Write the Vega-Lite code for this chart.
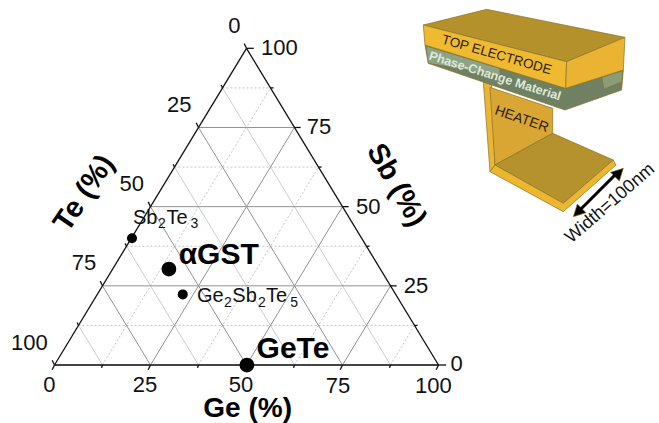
{
"$schema":"https://vega.github.io/schema/vega-lite/v6.json",
"width":659,"height":423,"autosize":"none","padding":0,"background":"white",
"config":{"view":{"stroke":null},"text":{"font":"Liberation Sans"}},
"datasets":{
"shapes":[
{"part":"strip","i":1,"x":111.67,"y":89.46},{"part":"strip","i":2,"x":113.84,"y":88.6},{"part":"strip","i":3,"x":114.71,"y":63.15},{"part":"strip","i":4,"x":113.41,"y":61.05},
{"part":"wall","i":1,"x":113.41,"y":87.67},{"part":"wall","i":2,"x":129.73,"y":81.04},{"part":"wall","i":3,"x":129.73,"y":73.15},{"part":"wall","i":4,"x":114.71,"y":63.15},
{"part":"floor","i":1,"x":114.71,"y":63.15},{"part":"floor","i":2,"x":129.73,"y":73.15},{"part":"floor","i":3,"x":145.53,"y":64.73},{"part":"floor","i":4,"x":132.5,"y":51.05},
{"part":"edge","i":1,"x":113.41,"y":61.05},{"part":"edge","i":2,"x":114.71,"y":63.15},{"part":"edge","i":3,"x":132.5,"y":51.05},{"part":"edge","i":4,"x":145.53,"y":64.73},{"part":"edge","i":5,"x":146.22,"y":63.15},{"part":"edge","i":6,"x":132.5,"y":48.41},
{"part":"pcm","i":1,"x":96.48,"y":101.04},{"part":"pcm","i":2,"x":133.11,"y":87.36},{"part":"pcm","i":3,"x":148.13,"y":93.15},{"part":"pcm","i":4,"x":147.69,"y":86.83},{"part":"pcm","i":5,"x":132.94,"y":80.52},{"part":"pcm","i":6,"x":97.35,"y":95.25},
{"part":"pcmLeft","i":1,"x":96.74,"y":100.73},{"part":"pcmLeft","i":2,"x":116.01,"y":93.67},{"part":"pcmLeft","i":3,"x":116.01,"y":91.25},{"part":"pcmLeft","i":4,"x":97.35,"y":95.25},
{"part":"pcmLight","i":1,"x":142.49,"y":90.83},{"part":"pcmLight","i":2,"x":147.96,"y":92.94},{"part":"pcmLight","i":3,"x":147.78,"y":89.46},{"part":"pcmLight","i":4,"x":143.1,"y":87.04},
{"part":"top","i":1,"x":96.05,"y":107.36},{"part":"top","i":2,"x":112.54,"y":112.3},{"part":"top","i":3,"x":148.56,"y":103.46},{"part":"top","i":4,"x":133.37,"y":95.78},
{"part":"front","i":1,"x":96.05,"y":107.36},{"part":"front","i":2,"x":133.37,"y":95.78},{"part":"front","i":3,"x":133.11,"y":87.36},{"part":"front","i":4,"x":96.48,"y":101.04},
{"part":"side","i":1,"x":133.37,"y":95.78},{"part":"side","i":2,"x":148.56,"y":103.46},{"part":"side","i":3,"x":148.13,"y":93.15},{"part":"side","i":4,"x":133.11,"y":87.36},
{"part":"head1","i":1,"x":135.11,"y":46.84},{"part":"head1","i":2,"x":136.15,"y":50.84},{"part":"head1","i":3,"x":138.41,"y":48.1},
{"part":"head2","i":1,"x":148.13,"y":62.1},{"part":"head2","i":2,"x":144.83,"y":60.84},{"part":"head2","i":3,"x":147.09,"y":58.1}
],
"grid":[
{"k":"major","x":12.5,"y":25,"x2":87.5,"y2":25},{"k":"major","x":25,"y":50,"x2":75,"y2":50},{"k":"major","x":37.5,"y":75,"x2":62.5,"y2":75},
{"k":"major","x":25,"y":0,"x2":62.5,"y2":75},{"k":"major","x":50,"y":0,"x2":75,"y2":50},{"k":"major","x":75,"y":0,"x2":87.5,"y2":25},
{"k":"major","x":25,"y":0,"x2":12.5,"y2":25},{"k":"major","x":50,"y":0,"x2":25,"y2":50},{"k":"major","x":75,"y":0,"x2":37.5,"y2":75},
{"k":"light","x":12.5,"y":0,"x2":6.25,"y2":12.5},{"k":"light","x":37.5,"y":0,"x2":18.75,"y2":37.5},{"k":"light","x":62.5,"y":0,"x2":31.25,"y2":62.5},{"k":"light","x":87.5,"y":0,"x2":43.75,"y2":87.5},
{"k":"dash","x":6.25,"y":12.5,"x2":93.75,"y2":12.5},{"k":"dash","x":18.75,"y":37.5,"x2":81.25,"y2":37.5},{"k":"dash","x":31.25,"y":62.5,"x2":68.75,"y2":62.5},{"k":"dash","x":43.75,"y":87.5,"x2":56.25,"y2":87.5},
{"k":"dash","x":12.5,"y":0,"x2":56.25,"y2":87.5},{"k":"dash","x":37.5,"y":0,"x2":68.75,"y2":62.5},{"k":"dash","x":62.5,"y":0,"x2":81.25,"y2":37.5},{"k":"dash","x":87.5,"y":0,"x2":93.75,"y2":12.5}
],
"frame":[
{"k":"base","x":0,"y":0,"x2":100,"y2":0},
{"k":"edge","x":0,"y":0,"x2":50,"y2":100},{"k":"edge","x":50,"y":100,"x2":100,"y2":0},
{"k":"tick","x":100,"y":0,"x2":102,"y2":0},{"k":"tick","x":93.75,"y":12.5,"x2":94.55,"y2":12.5},{"k":"tick","x":87.5,"y":25,"x2":89.1,"y2":25},{"k":"tick","x":81.25,"y":37.5,"x2":82.05,"y2":37.5},{"k":"tick","x":75,"y":50,"x2":76.6,"y2":50},{"k":"tick","x":68.75,"y":62.5,"x2":69.55,"y2":62.5},{"k":"tick","x":62.5,"y":75,"x2":64.1,"y2":75},{"k":"tick","x":56.25,"y":87.5,"x2":57.05,"y2":87.5},{"k":"tick","x":50,"y":100,"x2":51.9,"y2":100},
{"k":"tick","x":0,"y":0,"x2":-0.6,"y2":1.5},{"k":"tick","x":6.25,"y":12.5,"x2":5.9,"y2":13.4},{"k":"tick","x":12.5,"y":25,"x2":11.9,"y2":26.5},{"k":"tick","x":18.75,"y":37.5,"x2":18.4,"y2":38.4},{"k":"tick","x":25,"y":50,"x2":24.4,"y2":51.5},{"k":"tick","x":31.25,"y":62.5,"x2":30.9,"y2":63.4},{"k":"tick","x":37.5,"y":75,"x2":36.9,"y2":76.5},{"k":"tick","x":43.75,"y":87.5,"x2":43.4,"y2":88.4},{"k":"tick","x":50,"y":100,"x2":49.4,"y2":101.5},
{"k":"tick","x":0,"y":0,"x2":-0.6,"y2":-1.5},{"k":"tick","x":12.5,"y":0,"x2":12.24,"y2":-0.9},{"k":"tick","x":25,"y":0,"x2":24.4,"y2":-1.5},{"k":"tick","x":37.5,"y":0,"x2":37.24,"y2":-0.9},{"k":"tick","x":50,"y":0,"x2":49.4,"y2":-1.5},{"k":"tick","x":62.5,"y":0,"x2":62.24,"y2":-0.9},{"k":"tick","x":75,"y":0,"x2":74.4,"y2":-1.5},{"k":"tick","x":87.5,"y":0,"x2":87.24,"y2":-0.9},{"k":"tick","x":100,"y":0,"x2":99.4,"y2":-1.5}
],
"numbers":[
{"t":"0","x":46.82,"y":107.04},{"t":"100","x":58.54,"y":100},{"t":"75","x":68.88,"y":75.06},{"t":"50","x":81.72,"y":49.98},{"t":"25","x":94.14,"y":25.04},{"t":"0","x":104.74,"y":0.3},
{"t":"25","x":32.5,"y":82},{"t":"50","x":20.1,"y":57.06},{"t":"75","x":7.68,"y":32.1},{"t":"100","x":-6.56,"y":7.04},
{"t":"0","x":-1.35,"y":-6.32},{"t":"25","x":23.57,"y":-6.32},{"t":"50","x":48.57,"y":-6.32},{"t":"75","x":73.83,"y":-6.63},{"t":"100","x":98.65,"y":-6.63}
],
"materials":[
{"name":"Sb2Te3","k":"small","x":20.18,"y":40},{"name":"aGST","k":"big","x":29.8,"y":30.3},{"name":"Ge2Sb2Te5","k":"small","x":33.4,"y":22.3},{"name":"GeTe","k":"big","x":50.1,"y":0}
]
},
"encoding":{
"x":{"field":"x","type":"quantitative","axis":null,"scale":{"domain":[-14.19,157.42],"nice":false,"zero":false}},
"y":{"field":"y","type":"quantitative","axis":null,"scale":{"domain":[-18.31,115.25],"nice":false,"zero":false}}
},
"layer":[
{"data":{"name":"shapes"},"mark":{"type":"line","strokeWidth":0.7,"stroke":"#8a7328","interpolate":"linear-closed"},
 "encoding":{"detail":{"field":"part"},"order":{"field":"i"},
 "fill":{"field":"part","type":"nominal","legend":null,"scale":{"domain":["strip","wall","floor","edge","pcm","pcmLeft","pcmLight","top","front","side","head1","head2"],"range":["#EAB434","#D9A533","#B6922E","#EDB62F","#6F8162","#8CA388","#8A9C78","#B5912C","#EFB930","#EAB332","#000000","#000000"]}}}},
{"data":{"values":[{"x":136.84,"y":48.94,"x2":146.83,"y2":61.05}]},"mark":{"type":"rule","stroke":"black","strokeWidth":3},"encoding":{"x2":{"field":"x2"},"y2":{"field":"y2"}}},
{"data":{"name":"grid"},"transform":[{"filter":"datum.k==='dash'"}],"mark":{"type":"rule","stroke":"#c4c4c4","strokeWidth":1,"strokeDash":[2,2]},"encoding":{"x2":{"field":"x2"},"y2":{"field":"y2"}}},
{"data":{"name":"grid"},"transform":[{"filter":"datum.k==='light'"}],"mark":{"type":"rule","stroke":"#cccccc","strokeWidth":1},"encoding":{"x2":{"field":"x2"},"y2":{"field":"y2"}}},
{"data":{"name":"grid"},"transform":[{"filter":"datum.k==='major'"}],"mark":{"type":"rule","stroke":"#929292","strokeWidth":1},"encoding":{"x2":{"field":"x2"},"y2":{"field":"y2"}}},
{"data":{"name":"frame"},"transform":[{"filter":"datum.k==='base'"}],"mark":{"type":"rule","stroke":"#444444","strokeWidth":1.8},"encoding":{"x2":{"field":"x2"},"y2":{"field":"y2"}}},
{"data":{"name":"frame"},"transform":[{"filter":"datum.k!=='base'"}],"mark":{"type":"rule","stroke":"#111111","strokeWidth":1.3},"encoding":{"x2":{"field":"x2"},"y2":{"field":"y2"}}},
{"data":{"name":"materials"},"mark":{"type":"point","filled":true,"opacity":1,"color":"black","shape":"circle"},
 "encoding":{"size":{"field":"k","type":"nominal","legend":null,"scale":{"domain":["small","big"],"range":[100,218]}}}},
{"data":{"name":"numbers"},"mark":{"type":"text","fontSize":22,"font":"Liberation Sans","color":"#111111","align":"center","baseline":"middle"},"encoding":{"text":{"field":"t"}}},
{"data":{"values":[{"t":"Ge (%)","x":50.3,"y":-13.9}]},"mark":{"type":"text","fontSize":28,"fontWeight":"bold","font":"Liberation Sans","color":"black","align":"center","baseline":"middle"},"encoding":{"text":{"field":"t"}}},
{"data":{"values":[{"t":"Te (%)","x":7.68,"y":54.3}]},"mark":{"type":"text","fontSize":29,"fontWeight":"bold","font":"Liberation Sans","color":"black","align":"center","baseline":"middle","angle":-56},"encoding":{"text":{"field":"t"}}},
{"data":{"values":[{"t":"Sb (%)","x":89.1,"y":56.84}]},"mark":{"type":"text","fontSize":29,"fontWeight":"bold","font":"Liberation Sans","color":"black","align":"center","baseline":"middle","angle":60},"encoding":{"text":{"field":"t"}}},
{"data":{"values":[{"t":"αGST","x":42.76,"y":34.6},{"t":"GeTe","x":62.1,"y":4.9}]},"mark":{"type":"text","fontSize":30,"fontWeight":"bold","font":"Liberation Sans","color":"black","align":"center","baseline":"middle"},"encoding":{"text":{"field":"t"}}},
{"data":{"values":[{"t":"Sb","x":20.44,"y":46.42},{"t":"Te","x":29.2,"y":46.42},{"t":"Ge","x":37.11,"y":21.79},{"t":"Sb","x":46.3,"y":21.79},{"t":"Te","x":55.1,"y":21.79}]},"mark":{"type":"text","fontSize":20,"font":"Liberation Sans","color":"#111111","align":"left","baseline":"middle"},"encoding":{"text":{"field":"t"}}},
{"data":{"values":[{"t":"2","x":26.95,"y":44.52},{"t":"3","x":35.4,"y":44.52},{"t":"2","x":44.14,"y":19.58},{"t":"2","x":52.99,"y":19.58},{"t":"5","x":61.4,"y":19.58}]},"mark":{"type":"text","fontSize":14,"font":"Liberation Sans","color":"#111111","align":"left","baseline":"middle"},"encoding":{"text":{"field":"t"}}},
{"data":{"values":[{"t":"TOP ELECTRODE","x":115.14,"y":97.88}]},"mark":{"type":"text","fontSize":13.5,"font":"Liberation Sans","color":"#2a2208","align":"center","baseline":"middle","angle":16},"encoding":{"text":{"field":"t"}}},
{"data":{"values":[{"t":"Phase-Change Material","x":114.71,"y":91.25}]},"mark":{"type":"text","fontSize":12.5,"fontWeight":"bold","font":"Liberation Sans","color":"#dfe8d8","align":"center","baseline":"middle","angle":17.5},"encoding":{"text":{"field":"t"}}},
{"data":{"values":[{"t":"HEATER","x":121.65,"y":77.57}]},"mark":{"type":"text","fontSize":14,"font":"Liberation Sans","color":"#2a2208","align":"center","baseline":"middle","angle":19},"encoding":{"text":{"field":"t"}}},
{"data":{"values":[{"t":"Width=100nm","x":144.7,"y":51}]},"mark":{"type":"text","fontSize":18,"font":"Liberation Sans","color":"#111111","align":"center","baseline":"middle","angle":-41},"encoding":{"text":{"field":"t"}}}
]
}
